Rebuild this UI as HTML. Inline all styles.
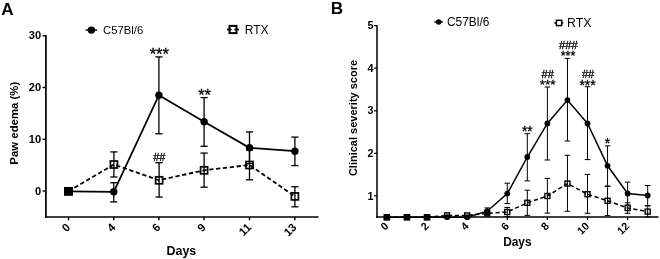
<!DOCTYPE html>
<html><head><meta charset="utf-8"><title>Figure</title>
<style>
html,body{margin:0;padding:0;background:#fff;}
svg{display:block;font-family:"Liberation Sans", sans-serif;fill:#000;}
</style></head>
<body>
<svg width="660" height="259" viewBox="0 0 660 259">
<rect x="0" y="0" width="660" height="259" fill="#fff"/>
<line x1="45.90" y1="35.10" x2="45.90" y2="217.85" stroke="#000" stroke-width="1.7" />
<line x1="45.05" y1="217.00" x2="318.50" y2="217.00" stroke="#000" stroke-width="1.7" />
<line x1="42.60" y1="35.80" x2="45.90" y2="35.80" stroke="#000" stroke-width="1.4" />
<text x="41.20" y="39.30" font-size="11.1" font-weight="bold" text-anchor="end" >30</text>
<line x1="42.60" y1="87.50" x2="45.90" y2="87.50" stroke="#000" stroke-width="1.4" />
<text x="41.20" y="91.00" font-size="11.1" font-weight="bold" text-anchor="end" >20</text>
<line x1="42.60" y1="139.30" x2="45.90" y2="139.30" stroke="#000" stroke-width="1.4" />
<text x="41.20" y="142.80" font-size="11.1" font-weight="bold" text-anchor="end" >10</text>
<line x1="42.60" y1="191.00" x2="45.90" y2="191.00" stroke="#000" stroke-width="1.4" />
<text x="41.20" y="194.50" font-size="11.1" font-weight="bold" text-anchor="end" >0</text>
<line x1="68.50" y1="217.00" x2="68.50" y2="220.30" stroke="#000" stroke-width="1.4" />
<text x="70.90" y="228.00" font-size="11.3" font-weight="bold" text-anchor="end" transform="rotate(-45 70.90 228.00)" >0</text>
<line x1="113.80" y1="217.00" x2="113.80" y2="220.30" stroke="#000" stroke-width="1.4" />
<text x="116.20" y="228.00" font-size="11.3" font-weight="bold" text-anchor="end" transform="rotate(-45 116.20 228.00)" >4</text>
<line x1="158.90" y1="217.00" x2="158.90" y2="220.30" stroke="#000" stroke-width="1.4" />
<text x="161.30" y="228.00" font-size="11.3" font-weight="bold" text-anchor="end" transform="rotate(-45 161.30 228.00)" >6</text>
<line x1="204.10" y1="217.00" x2="204.10" y2="220.30" stroke="#000" stroke-width="1.4" />
<text x="206.50" y="228.00" font-size="11.3" font-weight="bold" text-anchor="end" transform="rotate(-45 206.50 228.00)" >9</text>
<line x1="249.50" y1="217.00" x2="249.50" y2="220.30" stroke="#000" stroke-width="1.4" />
<text x="251.90" y="228.00" font-size="11.3" font-weight="bold" text-anchor="end" transform="rotate(-45 251.90 228.00)" >11</text>
<line x1="294.90" y1="217.00" x2="294.90" y2="220.30" stroke="#000" stroke-width="1.4" />
<text x="297.30" y="228.00" font-size="11.3" font-weight="bold" text-anchor="end" transform="rotate(-45 297.30 228.00)" >13</text>
<text x="1.30" y="14.60" font-size="17" font-weight="bold" text-anchor="start" >A</text>
<text x="17.90" y="123.20" font-size="11.4" font-weight="bold" text-anchor="middle" transform="rotate(-90 17.90 123.20)" >Paw edema (%)</text>
<text x="181.40" y="254.60" font-size="12.4" font-weight="bold" text-anchor="middle" >Days</text>
<line x1="113.90" y1="151.90" x2="113.90" y2="177.00" stroke="#000" stroke-width="1.3" /><line x1="110.30" y1="151.90" x2="117.50" y2="151.90" stroke="#000" stroke-width="1.3" /><line x1="110.30" y1="177.00" x2="117.50" y2="177.00" stroke="#000" stroke-width="1.3" />
<line x1="159.10" y1="162.70" x2="159.10" y2="197.10" stroke="#000" stroke-width="1.3" /><line x1="155.50" y1="162.70" x2="162.70" y2="162.70" stroke="#000" stroke-width="1.3" /><line x1="155.50" y1="197.10" x2="162.70" y2="197.10" stroke="#000" stroke-width="1.3" />
<line x1="204.10" y1="153.10" x2="204.10" y2="187.20" stroke="#000" stroke-width="1.3" /><line x1="200.50" y1="153.10" x2="207.70" y2="153.10" stroke="#000" stroke-width="1.3" /><line x1="200.50" y1="187.20" x2="207.70" y2="187.20" stroke="#000" stroke-width="1.3" />
<line x1="249.50" y1="150.00" x2="249.50" y2="179.80" stroke="#000" stroke-width="1.3" /><line x1="245.90" y1="150.00" x2="253.10" y2="150.00" stroke="#000" stroke-width="1.3" /><line x1="245.90" y1="179.80" x2="253.10" y2="179.80" stroke="#000" stroke-width="1.3" />
<line x1="294.90" y1="186.70" x2="294.90" y2="206.80" stroke="#000" stroke-width="1.3" /><line x1="291.30" y1="186.70" x2="298.50" y2="186.70" stroke="#000" stroke-width="1.3" /><line x1="291.30" y1="206.80" x2="298.50" y2="206.80" stroke="#000" stroke-width="1.3" />
<polyline points="68.5,191.3 113.9,164.5 159.1,180.3 204.1,170.3 249.5,165.0 294.9,196.4" fill="none" stroke="#000" stroke-width="1.8" stroke-dasharray="4.3 2.6"/>
<rect x="65.00" y="187.80" width="7.0" height="7.0" fill="none" stroke="#000" stroke-width="1.7"/>
<rect x="110.40" y="161.00" width="7.0" height="7.0" fill="none" stroke="#000" stroke-width="1.7"/>
<rect x="155.60" y="176.80" width="7.0" height="7.0" fill="none" stroke="#000" stroke-width="1.7"/>
<rect x="200.60" y="166.80" width="7.0" height="7.0" fill="none" stroke="#000" stroke-width="1.7"/>
<rect x="246.00" y="161.50" width="7.0" height="7.0" fill="none" stroke="#000" stroke-width="1.7"/>
<rect x="291.40" y="192.90" width="7.0" height="7.0" fill="none" stroke="#000" stroke-width="1.7"/>
<line x1="113.80" y1="182.70" x2="113.80" y2="201.90" stroke="#000" stroke-width="1.3" /><line x1="110.20" y1="182.70" x2="117.40" y2="182.70" stroke="#000" stroke-width="1.3" /><line x1="110.20" y1="201.90" x2="117.40" y2="201.90" stroke="#000" stroke-width="1.3" />
<line x1="158.90" y1="56.90" x2="158.90" y2="133.80" stroke="#000" stroke-width="1.3" /><line x1="155.30" y1="56.90" x2="162.50" y2="56.90" stroke="#000" stroke-width="1.3" /><line x1="155.30" y1="133.80" x2="162.50" y2="133.80" stroke="#000" stroke-width="1.3" />
<line x1="204.10" y1="97.60" x2="204.10" y2="146.30" stroke="#000" stroke-width="1.3" /><line x1="200.50" y1="97.60" x2="207.70" y2="97.60" stroke="#000" stroke-width="1.3" /><line x1="200.50" y1="146.30" x2="207.70" y2="146.30" stroke="#000" stroke-width="1.3" />
<line x1="249.50" y1="131.90" x2="249.50" y2="163.60" stroke="#000" stroke-width="1.3" /><line x1="245.90" y1="131.90" x2="253.10" y2="131.90" stroke="#000" stroke-width="1.3" /><line x1="245.90" y1="163.60" x2="253.10" y2="163.60" stroke="#000" stroke-width="1.3" />
<line x1="294.90" y1="137.10" x2="294.90" y2="165.60" stroke="#000" stroke-width="1.3" /><line x1="291.30" y1="137.10" x2="298.50" y2="137.10" stroke="#000" stroke-width="1.3" /><line x1="291.30" y1="165.60" x2="298.50" y2="165.60" stroke="#000" stroke-width="1.3" />
<polyline points="68.5,191.3 113.8,191.8 158.9,95.2 204.1,121.7 249.5,147.8 294.9,151.2" fill="none" stroke="#000" stroke-width="1.8"/>
<circle cx="113.80" cy="191.80" r="3.7" fill="#000"/>
<circle cx="158.90" cy="95.20" r="3.7" fill="#000"/>
<circle cx="204.10" cy="121.70" r="3.7" fill="#000"/>
<circle cx="249.50" cy="147.80" r="3.7" fill="#000"/>
<circle cx="294.90" cy="151.20" r="3.7" fill="#000"/>
<rect x="64.2" y="187.0" width="8.5" height="8.6" fill="#000"/>
<text x="159.30" y="59.80" font-size="16.5" text-anchor="middle" stroke="#000" stroke-width="0.3">***</text>
<text x="204.60" y="101.40" font-size="16.5" text-anchor="middle" stroke="#000" stroke-width="0.3">**</text>
<text x="159.30" y="160.90" font-size="10.9" text-anchor="middle" stroke="#000" stroke-width="0.3">##</text>
<line x1="85.60" y1="30.10" x2="97.10" y2="30.10" stroke="#000" stroke-width="1.5" />
<circle cx="91.4" cy="30.1" r="3.7" fill="#000"/>
<text x="103.00" y="34.10" font-size="11.3" text-anchor="start" >C57Bl/6</text>
<rect x="229.5" y="25.9" width="7.0" height="7.2" fill="#fff" stroke="#000" stroke-width="2.0"/>
<line x1="227.00" y1="29.50" x2="231.60" y2="29.50" stroke="#000" stroke-width="1.8" />
<line x1="234.40" y1="29.50" x2="239.00" y2="29.50" stroke="#000" stroke-width="1.8" />
<text x="244.70" y="33.50" font-size="12.0" text-anchor="start" >RTX</text>
<line x1="377.00" y1="25.00" x2="377.00" y2="217.95" stroke="#000" stroke-width="1.5" />
<line x1="376.25" y1="217.00" x2="658.50" y2="217.00" stroke="#000" stroke-width="1.7" />
<line x1="374.00" y1="195.80" x2="377.00" y2="195.80" stroke="#000" stroke-width="1.2" />
<text x="373.40" y="199.80" font-size="10.8" font-weight="bold" text-anchor="end" >1</text>
<line x1="374.00" y1="153.40" x2="377.00" y2="153.40" stroke="#000" stroke-width="1.2" />
<text x="373.40" y="157.40" font-size="10.8" font-weight="bold" text-anchor="end" >2</text>
<line x1="374.00" y1="110.80" x2="377.00" y2="110.80" stroke="#000" stroke-width="1.2" />
<text x="373.40" y="114.40" font-size="10.8" font-weight="bold" text-anchor="end" >3</text>
<line x1="374.00" y1="68.10" x2="377.00" y2="68.10" stroke="#000" stroke-width="1.2" />
<text x="373.40" y="72.10" font-size="10.8" font-weight="bold" text-anchor="end" >4</text>
<line x1="374.00" y1="25.60" x2="377.00" y2="25.60" stroke="#000" stroke-width="1.2" />
<text x="373.40" y="28.70" font-size="10.8" font-weight="bold" text-anchor="end" >5</text>
<line x1="386.90" y1="217.20" x2="386.90" y2="220.00" stroke="#000" stroke-width="1.2" />
<text x="389.30" y="226.80" font-size="10.8" font-weight="bold" text-anchor="end" transform="rotate(-45 389.30 226.80)" >0</text>
<line x1="427.02" y1="217.20" x2="427.02" y2="220.00" stroke="#000" stroke-width="1.2" />
<text x="429.42" y="226.80" font-size="10.8" font-weight="bold" text-anchor="end" transform="rotate(-45 429.42 226.80)" >2</text>
<line x1="467.14" y1="217.20" x2="467.14" y2="220.00" stroke="#000" stroke-width="1.2" />
<text x="469.54" y="226.80" font-size="10.8" font-weight="bold" text-anchor="end" transform="rotate(-45 469.54 226.80)" >4</text>
<line x1="507.26" y1="217.20" x2="507.26" y2="220.00" stroke="#000" stroke-width="1.2" />
<text x="509.66" y="226.80" font-size="10.8" font-weight="bold" text-anchor="end" transform="rotate(-45 509.66 226.80)" >6</text>
<line x1="547.38" y1="217.20" x2="547.38" y2="220.00" stroke="#000" stroke-width="1.2" />
<text x="549.78" y="226.80" font-size="10.8" font-weight="bold" text-anchor="end" transform="rotate(-45 549.78 226.80)" >8</text>
<line x1="587.50" y1="217.20" x2="587.50" y2="220.00" stroke="#000" stroke-width="1.2" />
<text x="589.90" y="226.80" font-size="10.8" font-weight="bold" text-anchor="end" transform="rotate(-45 589.90 226.80)" >10</text>
<line x1="627.62" y1="217.20" x2="627.62" y2="220.00" stroke="#000" stroke-width="1.2" />
<text x="630.02" y="226.80" font-size="10.8" font-weight="bold" text-anchor="end" transform="rotate(-45 630.02 226.80)" >12</text>
<text x="330.80" y="13.60" font-size="17.2" font-weight="bold" text-anchor="start" >B</text>
<text x="356.60" y="118.00" font-size="11.0" font-weight="bold" text-anchor="middle" transform="rotate(-90 356.60 118.00)" >Clinical severity score</text>
<text x="517.40" y="246.40" font-size="11.9" font-weight="bold" text-anchor="middle" >Days</text>
<line x1="487.20" y1="211.80" x2="487.20" y2="215.00" stroke="#000" stroke-width="1.0" /><line x1="484.40" y1="211.80" x2="490.00" y2="211.80" stroke="#000" stroke-width="1.0" /><line x1="484.40" y1="215.00" x2="490.00" y2="215.00" stroke="#000" stroke-width="1.0" />
<line x1="507.26" y1="207.50" x2="507.26" y2="216.50" stroke="#000" stroke-width="1.0" /><line x1="504.46" y1="207.50" x2="510.06" y2="207.50" stroke="#000" stroke-width="1.0" /><line x1="504.46" y1="216.50" x2="510.06" y2="216.50" stroke="#000" stroke-width="1.0" />
<line x1="527.32" y1="190.20" x2="527.32" y2="215.40" stroke="#000" stroke-width="1.0" /><line x1="524.52" y1="190.20" x2="530.12" y2="190.20" stroke="#000" stroke-width="1.0" /><line x1="524.52" y1="215.40" x2="530.12" y2="215.40" stroke="#000" stroke-width="1.0" />
<line x1="547.38" y1="178.40" x2="547.38" y2="213.10" stroke="#000" stroke-width="1.0" /><line x1="544.58" y1="178.40" x2="550.18" y2="178.40" stroke="#000" stroke-width="1.0" /><line x1="544.58" y1="213.10" x2="550.18" y2="213.10" stroke="#000" stroke-width="1.0" />
<line x1="567.44" y1="155.30" x2="567.44" y2="211.30" stroke="#000" stroke-width="1.0" /><line x1="564.64" y1="155.30" x2="570.24" y2="155.30" stroke="#000" stroke-width="1.0" /><line x1="564.64" y1="211.30" x2="570.24" y2="211.30" stroke="#000" stroke-width="1.0" />
<line x1="587.50" y1="174.40" x2="587.50" y2="213.30" stroke="#000" stroke-width="1.0" /><line x1="584.70" y1="174.40" x2="590.30" y2="174.40" stroke="#000" stroke-width="1.0" /><line x1="584.70" y1="213.30" x2="590.30" y2="213.30" stroke="#000" stroke-width="1.0" />
<line x1="607.56" y1="186.40" x2="607.56" y2="215.60" stroke="#000" stroke-width="1.0" /><line x1="604.76" y1="186.40" x2="610.36" y2="186.40" stroke="#000" stroke-width="1.0" /><line x1="604.76" y1="215.60" x2="610.36" y2="215.60" stroke="#000" stroke-width="1.0" />
<line x1="627.62" y1="202.80" x2="627.62" y2="213.30" stroke="#000" stroke-width="1.0" /><line x1="624.82" y1="202.80" x2="630.42" y2="202.80" stroke="#000" stroke-width="1.0" /><line x1="624.82" y1="213.30" x2="630.42" y2="213.30" stroke="#000" stroke-width="1.0" />
<line x1="647.68" y1="206.00" x2="647.68" y2="217.00" stroke="#000" stroke-width="1.0" /><line x1="644.88" y1="206.00" x2="650.48" y2="206.00" stroke="#000" stroke-width="1.0" /><line x1="644.88" y1="217.00" x2="650.48" y2="217.00" stroke="#000" stroke-width="1.0" />
<polyline points="386.9,217.2 407.0,217.2 427.0,217.2 447.1,215.4 467.1,215.4 487.2,213.4 507.3,212.0 527.3,202.8 547.4,196.0 567.4,183.5 587.5,194.2 607.6,200.8 627.6,208.0 647.7,211.6" fill="none" stroke="#000" stroke-width="1.5" stroke-dasharray="4.2 2.6"/>
<rect x="384.40" y="214.70" width="5.0" height="5.0" fill="none" stroke="#000" stroke-width="1.4"/>
<rect x="404.46" y="214.70" width="5.0" height="5.0" fill="none" stroke="#000" stroke-width="1.4"/>
<rect x="424.52" y="214.70" width="5.0" height="5.0" fill="none" stroke="#000" stroke-width="1.4"/>
<rect x="444.58" y="212.90" width="5.0" height="5.0" fill="none" stroke="#000" stroke-width="1.4"/>
<rect x="464.64" y="212.90" width="5.0" height="5.0" fill="none" stroke="#000" stroke-width="1.4"/>
<rect x="484.70" y="210.90" width="5.0" height="5.0" fill="none" stroke="#000" stroke-width="1.4"/>
<rect x="504.76" y="209.50" width="5.0" height="5.0" fill="none" stroke="#000" stroke-width="1.4"/>
<rect x="524.82" y="200.30" width="5.0" height="5.0" fill="none" stroke="#000" stroke-width="1.4"/>
<rect x="544.88" y="193.50" width="5.0" height="5.0" fill="none" stroke="#000" stroke-width="1.4"/>
<rect x="564.94" y="181.00" width="5.0" height="5.0" fill="none" stroke="#000" stroke-width="1.4"/>
<rect x="585.00" y="191.70" width="5.0" height="5.0" fill="none" stroke="#000" stroke-width="1.4"/>
<rect x="605.06" y="198.30" width="5.0" height="5.0" fill="none" stroke="#000" stroke-width="1.4"/>
<rect x="625.12" y="205.50" width="5.0" height="5.0" fill="none" stroke="#000" stroke-width="1.4"/>
<rect x="645.18" y="209.10" width="5.0" height="5.0" fill="none" stroke="#000" stroke-width="1.4"/>
<line x1="487.20" y1="207.90" x2="487.20" y2="214.50" stroke="#000" stroke-width="1.0" /><line x1="484.40" y1="207.90" x2="490.00" y2="207.90" stroke="#000" stroke-width="1.0" /><line x1="484.40" y1="214.50" x2="490.00" y2="214.50" stroke="#000" stroke-width="1.0" />
<line x1="507.26" y1="183.20" x2="507.26" y2="203.50" stroke="#000" stroke-width="1.0" /><line x1="504.46" y1="183.20" x2="510.06" y2="183.20" stroke="#000" stroke-width="1.0" /><line x1="504.46" y1="203.50" x2="510.06" y2="203.50" stroke="#000" stroke-width="1.0" />
<line x1="527.32" y1="133.70" x2="527.32" y2="180.90" stroke="#000" stroke-width="1.0" /><line x1="524.52" y1="133.70" x2="530.12" y2="133.70" stroke="#000" stroke-width="1.0" /><line x1="524.52" y1="180.90" x2="530.12" y2="180.90" stroke="#000" stroke-width="1.0" />
<line x1="547.38" y1="87.00" x2="547.38" y2="160.00" stroke="#000" stroke-width="1.0" /><line x1="544.58" y1="87.00" x2="550.18" y2="87.00" stroke="#000" stroke-width="1.0" /><line x1="544.58" y1="160.00" x2="550.18" y2="160.00" stroke="#000" stroke-width="1.0" />
<line x1="567.44" y1="58.40" x2="567.44" y2="141.00" stroke="#000" stroke-width="1.0" /><line x1="564.64" y1="58.40" x2="570.24" y2="58.40" stroke="#000" stroke-width="1.0" /><line x1="564.64" y1="141.00" x2="570.24" y2="141.00" stroke="#000" stroke-width="1.0" />
<line x1="587.50" y1="86.70" x2="587.50" y2="159.60" stroke="#000" stroke-width="1.0" /><line x1="584.70" y1="86.70" x2="590.30" y2="86.70" stroke="#000" stroke-width="1.0" /><line x1="584.70" y1="159.60" x2="590.30" y2="159.60" stroke="#000" stroke-width="1.0" />
<line x1="607.56" y1="145.90" x2="607.56" y2="186.00" stroke="#000" stroke-width="1.0" /><line x1="604.76" y1="145.90" x2="610.36" y2="145.90" stroke="#000" stroke-width="1.0" /><line x1="604.76" y1="186.00" x2="610.36" y2="186.00" stroke="#000" stroke-width="1.0" />
<line x1="627.62" y1="182.10" x2="627.62" y2="205.00" stroke="#000" stroke-width="1.0" /><line x1="624.82" y1="182.10" x2="630.42" y2="182.10" stroke="#000" stroke-width="1.0" /><line x1="624.82" y1="205.00" x2="630.42" y2="205.00" stroke="#000" stroke-width="1.0" />
<line x1="647.68" y1="185.50" x2="647.68" y2="205.50" stroke="#000" stroke-width="1.0" /><line x1="644.88" y1="185.50" x2="650.48" y2="185.50" stroke="#000" stroke-width="1.0" /><line x1="644.88" y1="205.50" x2="650.48" y2="205.50" stroke="#000" stroke-width="1.0" />
<polyline points="386.9,217.2 407.0,217.2 427.0,217.2 447.1,217.2 467.1,217.2 487.2,211.2 507.3,193.6 527.3,157.0 547.4,123.4 567.4,100.1 587.5,123.4 607.6,165.8 627.6,193.5 647.7,195.5" fill="none" stroke="#000" stroke-width="1.5"/>
<rect x="383.70" y="214.00" width="6.4" height="6.4" fill="#000"/>
<rect x="403.76" y="214.00" width="6.4" height="6.4" fill="#000"/>
<rect x="423.82" y="214.00" width="6.4" height="6.4" fill="#000"/>
<circle cx="447.08" cy="217.20" r="2.9" fill="#000"/>
<circle cx="467.14" cy="217.20" r="2.9" fill="#000"/>
<circle cx="487.20" cy="211.20" r="2.9" fill="#000"/>
<circle cx="507.26" cy="193.60" r="2.9" fill="#000"/>
<circle cx="527.32" cy="157.00" r="2.9" fill="#000"/>
<circle cx="547.38" cy="123.40" r="2.9" fill="#000"/>
<circle cx="567.44" cy="100.10" r="2.9" fill="#000"/>
<circle cx="587.50" cy="123.40" r="2.9" fill="#000"/>
<circle cx="607.56" cy="165.80" r="2.9" fill="#000"/>
<circle cx="627.62" cy="193.50" r="2.9" fill="#000"/>
<circle cx="647.68" cy="195.50" r="2.9" fill="#000"/>
<text x="527.32" y="135.70" font-size="13.8" text-anchor="middle" stroke="#000" stroke-width="0.3">**</text>
<text x="547.68" y="78.20" font-size="11.0" text-anchor="middle" stroke="#000" stroke-width="0.3">##</text>
<text x="547.58" y="89.20" font-size="13.6" text-anchor="middle" stroke="#000" stroke-width="0.3">***</text>
<text x="568.44" y="48.90" font-size="11.2" text-anchor="middle" stroke="#000" stroke-width="0.3">###</text>
<text x="568.04" y="60.30" font-size="12.5" text-anchor="middle" stroke="#000" stroke-width="0.3">***</text>
<text x="588.10" y="78.00" font-size="11.0" text-anchor="middle" stroke="#000" stroke-width="0.3">##</text>
<text x="587.60" y="90.40" font-size="14.0" text-anchor="middle" stroke="#000" stroke-width="0.3">***</text>
<text x="607.56" y="147.80" font-size="13.8" text-anchor="middle" stroke="#000" stroke-width="0.3">*</text>
<line x1="434.40" y1="21.90" x2="442.80" y2="21.90" stroke="#000" stroke-width="1.5" />
<circle cx="438.6" cy="21.9" r="2.75" fill="#000"/>
<text x="447.00" y="25.50" font-size="11.9" text-anchor="start" >C57Bl/6</text>
<line x1="554.30" y1="22.95" x2="563.30" y2="22.95" stroke="#000" stroke-width="1.5" />
<rect x="556.4" y="20.3" width="5.3" height="5.3" fill="#fff" stroke="#000" stroke-width="1.5"/>
<text x="567.10" y="26.60" font-size="12.3" text-anchor="start" >RTX</text>
</svg>
</body></html>
